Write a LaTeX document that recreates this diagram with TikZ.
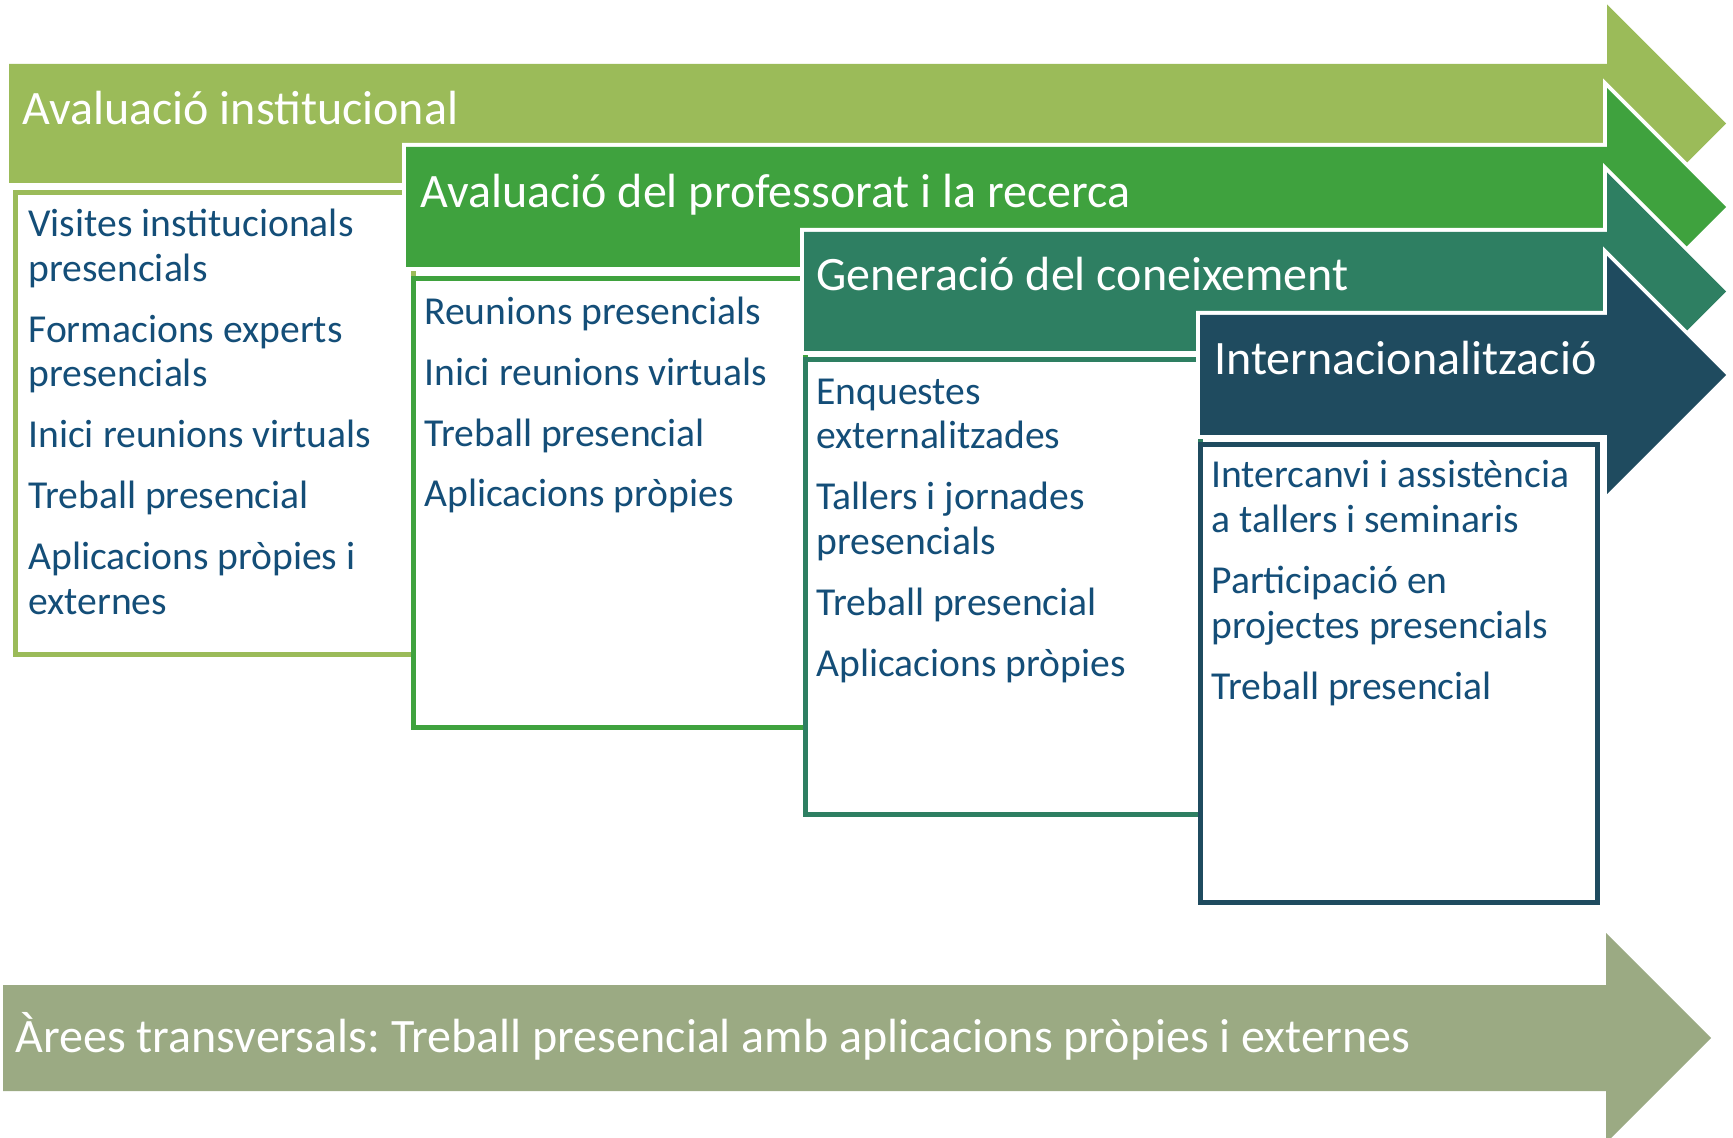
\documentclass[tikz,border=0pt]{standalone}
\usepackage{fontspec}
\setmainfont{Carlito}
\frenchspacing
\usepackage{tikz}
\usetikzlibrary{calc}
\usetikzlibrary{positioning}
\definecolor{colInst}{HTML}{9BBB59}
\definecolor{colProf}{HTML}{3FA23E}
\definecolor{colGen}{HTML}{2E7F62}
\definecolor{colInt}{HTML}{1F4B5F}
\definecolor{colTrans}{HTML}{9BAA83}
\definecolor{colText}{HTML}{144E78}
\tikzstyle{arrowshape} = [preaction={draw=white, line width=4pt, line join=miter}]
\tikzstyle{titlenode} = [anchor=base west, inner sep=0, text=white, font=\fontsize{24}{28}\selectfont]
\tikzstyle{listbox} = [fill=white, line width=2.5pt]
% base of a multi-line node = baseline of its last line
\tikzstyle{listnode} = [anchor=base west, inner sep=0, align=left, text=colText, font=\fontsize{19.8}{22.4}\selectfont]

\begin{document}
\begin{tikzpicture}[x=0.5pt, y=-0.5pt]
    \clip (0,0) rectangle (1733,1138);
    % Avaluacio institucional
    \path[arrowshape, fill=colInst] (9,64) -- (1607,64) -- (1607,4.5) -- (1726,123.5)
        -- (1607,242.5) -- (1607,183) -- (9,183) -- cycle;
    \node[titlenode] (inst_title) at (22,125) {Avaluació institucional};
    \coordinate (box1) at (15,193);
    \draw[listbox, draw=colInst] (box1) rectangle ++(398,461);
    \node[listnode] (inst_list) at ($(box1)+(13,421)$) {Visites institucionals\\presencials\\[8pt]
        Formacions experts\\presencials\\[8pt]Inici reunions virtuals\\[8pt]
        Treball presencial\\[8pt]Aplicacions pròpies i\\externes};
    % Avaluacio del professorat
    \path[arrowshape, fill=colProf] (406,147) -- (1607,147) -- (1607,88) -- (1726,207)
        -- (1607,326) -- (1607,267) -- (406,267) -- cycle;
    \node[titlenode] (prof_title) at (420,208) {Avaluació del professorat i la recerca};
    \coordinate (box2) at (413,279);
    \draw[listbox, draw=colProf] (box2) rectangle ++(392,448);
    \node[listnode] (prof_list) at ($(box2)+(11,228)$) {Reunions presencials\\[8pt]
        Inici reunions virtuals\\[8pt]Treball presencial\\[8pt]Aplicacions pròpies};
    % Generacio del coneixement
    \path[arrowshape, fill=colGen] (804,232) -- (1607,232) -- (1607,172.5) -- (1726,291.5)
        -- (1607,410.5) -- (1607,351) -- (804,351) -- cycle;
    \node[titlenode] (gen_title) at (816,291) {Generació del coneixement};
    \coordinate (box3) at (805,360);
    \draw[listbox, draw=colGen] (box3) rectangle ++(395,454);
    \node[listnode] (gen_list) at ($(box3)+(11,316)$) {Enquestes\\externalitzades\\[8pt]
        Tallers i jornades\\presencials\\[8pt]Treball presencial\\[8pt]Aplicacions pròpies};
    % Internacionalitzacio
    \path[arrowshape, fill=colInt] (1200,315) -- (1607,315) -- (1607,256) -- (1726,375)
        -- (1607,494) -- (1607,435) -- (1200,435) -- cycle;
    \node[titlenode] (int_title) at (1214,375) {Internacionalització};
    \coordinate (box4) at (1200,445);
    \draw[listbox, draw=colInt] (box4) rectangle ++(397,457);
    \node[listnode] (int_list) at ($(box4)+(11,254)$) {Intercanvi i assistència\\a tallers i seminaris\\[8pt]
        Participació en\\projectes presencials\\[8pt]Treball presencial};
    % arees transversals
    \path[arrowshape, fill=colTrans] (3,985) -- (1606,985) -- (1606,933) -- (1711,1038)
        -- (1606,1143) -- (1606,1091) -- (3,1091) -- cycle;
    \node[titlenode] (trans_title) at (15,1052) {Àrees transversals: Treball presencial amb aplicacions pròpies i externes};
\end{tikzpicture}
\end{document}
